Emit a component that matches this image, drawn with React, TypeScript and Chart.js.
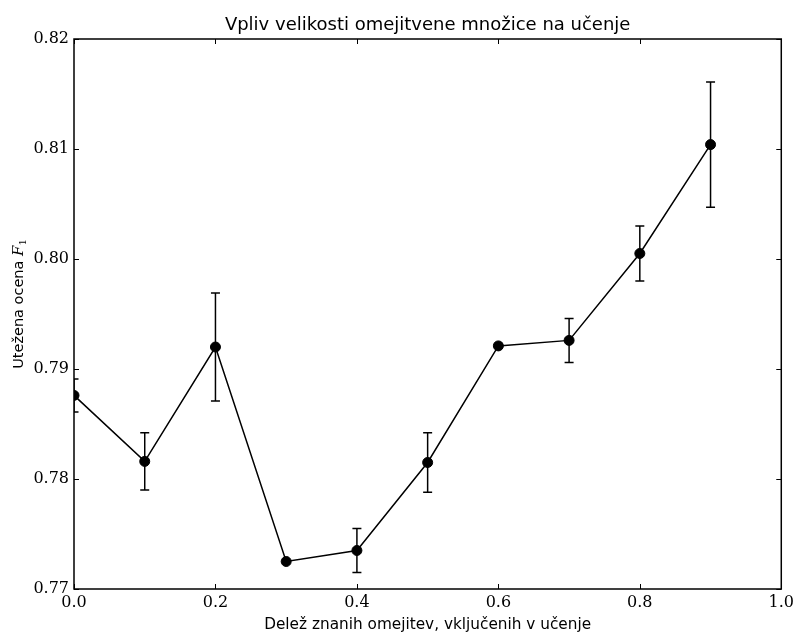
import React, { useEffect, useRef } from "react";
import { Chart, registerables } from "chart.js";

Chart.register(...registerables);

const titleText = "Vpliv velikosti omejitvene množice na učenje";
const xLabelText = "Delež znanih omejitev, vključenih v učenje";
const yLabelMain = "Utežena ocena ";
const yLabelVar = "F";
const yLabelSub = "1";

const fractions = [0.0, 0.1, 0.2, 0.3, 0.4, 0.5, 0.6, 0.7, 0.8, 0.9];
const f1Scores = [0.7876, 0.7816, 0.792, 0.7725, 0.7735, 0.7815, 0.7921, 0.7926, 0.8005, 0.8104];
const f1Errors = [0.0015, 0.0026, 0.0049, 0, 0.002, 0.0027, 0, 0.002, 0.0025, 0.0057];

const xMin = 0.0;
const xMax = 1.0;
const xStep = 0.2;
const yMin = 0.77;
const yMax = 0.82;
const yStep = 0.01;

const decorPlugin = {
  id: "decor",
  beforeDatasetsDraw(chart: any) {
    const { ctx, chartArea, scales } = chart;
    const xs = scales.x;
    const ys = scales.y;
    ctx.save();
    ctx.beginPath();
    ctx.rect(chartArea.left, chartArea.top, chartArea.right - chartArea.left, chartArea.bottom - chartArea.top);
    ctx.clip();
    ctx.strokeStyle = "#000";
    ctx.lineWidth = 1.5;
    const cap = 4.5;
    for (let i = 0; i < fractions.length; i++) {
      const e = f1Errors[i];
      if (!e) continue;
      const px = xs.getPixelForValue(fractions[i]);
      const top = ys.getPixelForValue(f1Scores[i] + e);
      const bot = ys.getPixelForValue(f1Scores[i] - e);
      ctx.beginPath();
      ctx.moveTo(px, top);
      ctx.lineTo(px, bot);
      ctx.moveTo(px - cap, top);
      ctx.lineTo(px + cap, top);
      ctx.moveTo(px - cap, bot);
      ctx.lineTo(px + cap, bot);
      ctx.stroke();
    }
    ctx.restore();
  },
  afterDraw(chart: any) {
    const { ctx, chartArea, scales } = chart;
    const xs = scales.x;
    const ys = scales.y;
    const { left, right, top, bottom } = chartArea;
    ctx.save();
    ctx.strokeStyle = "#000";
    ctx.lineWidth = 1;
    const tl = 5;
    ctx.beginPath();
    xs.ticks.forEach((t: any) => {
      const px = Math.round(xs.getPixelForValue(t.value)) + 0.5;
      ctx.moveTo(px, bottom);
      ctx.lineTo(px, bottom - tl);
      ctx.moveTo(px, top);
      ctx.lineTo(px, top + tl);
    });
    ys.ticks.forEach((t: any) => {
      const py = Math.round(ys.getPixelForValue(t.value)) + 0.5;
      ctx.moveTo(left, py);
      ctx.lineTo(left + tl, py);
      ctx.moveTo(right, py);
      ctx.lineTo(right - tl, py);
    });
    ctx.stroke();
    ctx.lineWidth = 1.5;
    ctx.strokeRect(left, top, right - left, bottom - top);

    ctx.fillStyle = "#000";
    ctx.textAlign = "center";
    ctx.textBaseline = "alphabetic";
    const cx = (left + right) / 2;
    ctx.font = "18px 'DejaVu Sans'";
    ctx.fillText(titleText, cx, 30);
    ctx.font = "15.3px 'DejaVu Sans'";
    ctx.fillText(xLabelText, cx, 629);

    // y label, rotated
    ctx.translate(23, (top + bottom) / 2 - 10);
    ctx.rotate(-Math.PI / 2);
    ctx.textAlign = "left";
    ctx.font = "14.5px 'DejaVu Sans'";
    const w1 = ctx.measureText(yLabelMain).width;
    ctx.font = "italic 15px 'DejaVu Serif'";
    const w2 = ctx.measureText(yLabelVar).width;
    ctx.font = "10px 'DejaVu Serif'";
    const w3 = ctx.measureText(yLabelSub).width;
    const total = w1 + w2 + w3;
    let x0 = -total / 2;
    ctx.font = "14.5px 'DejaVu Sans'";
    ctx.fillText(yLabelMain, x0, 0);
    x0 += w1;
    ctx.font = "italic 15px 'DejaVu Serif'";
    ctx.fillText(yLabelVar, x0, 0);
    x0 += w2;
    ctx.font = "10px 'DejaVu Serif'";
    ctx.fillText(yLabelSub, x0, 3);
    ctx.restore();
  },
};

export default function App() {
  const canvasRef = useRef<HTMLCanvasElement | null>(null);

  useEffect(() => {
    if (!canvasRef.current) return;
    const chart = new Chart(canvasRef.current, {
      type: "line",
      data: {
        datasets: [
          {
            data: fractions.map((x, i) => ({ x, y: f1Scores[i] })),
            borderColor: "#000",
            borderWidth: 1.5,
            backgroundColor: "#000",
            pointBackgroundColor: "#000",
            pointBorderColor: "#000",
            pointBorderWidth: 1,
            pointRadius: 5,
            tension: 0,
            fill: false,
            clip: 0,
          } as any,
        ],
      },
      options: {
        animation: false,
        responsive: true,
        maintainAspectRatio: false,
        layout: { padding: { left: 0, right: 12, top: 39, bottom: 0 } },
        plugins: {
          legend: { display: false },
          title: { display: false },
          tooltip: { enabled: false },
        },
        events: [],
        scales: {
          x: {
            type: "linear",
            min: xMin,
            max: xMax,
            grid: { display: false, drawTicks: false },
            border: { display: false },
            ticks: {
              stepSize: xStep,
              padding: 4,
              color: "#000",
              font: { family: "'DejaVu Serif'", size: 16 },
              callback: (v: any) => Number(v).toFixed(1),
            },
            afterFit: (s: any) => {
              s.height = 43;
            },
          },
          y: {
            type: "linear",
            min: yMin,
            max: yMax,
            grid: { display: false, drawTicks: false },
            border: { display: false },
            ticks: {
              stepSize: yStep,
              padding: 5,
              color: "#000",
              font: { family: "'DejaVu Serif'", size: 16 },
              callback: (v: any) => Number(v).toFixed(2),
            },
            afterFit: (s: any) => {
              s.width = 74;
            },
          },
        },
      },
      plugins: [decorPlugin],
    });
    return () => chart.destroy();
  }, []);

  return (
    <div style={{ position: "absolute", left: 0, top: 0, width: 798, height: 632, background: "#fff" }}>
      <canvas ref={canvasRef} />
    </div>
  );
}
